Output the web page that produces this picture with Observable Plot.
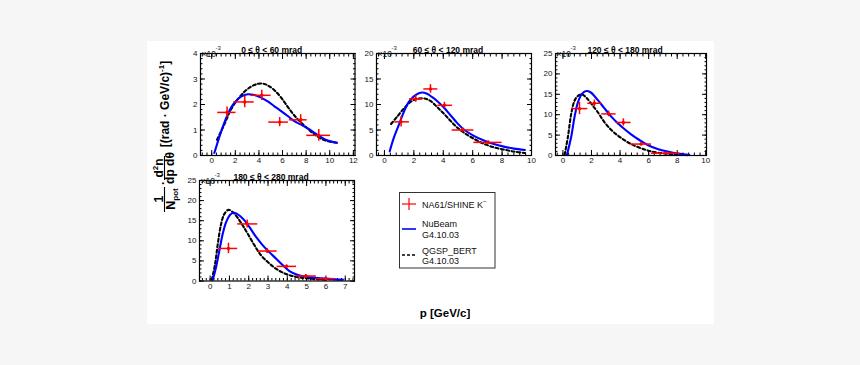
<!DOCTYPE html>
<html><head><meta charset="utf-8">
<script src="https://cdn.jsdelivr.net/npm/d3@7"></script>
<script src="https://cdn.jsdelivr.net/npm/@observablehq/plot@0.6"></script>
<style>
body{margin:0;background:#f6f6f6;}
#page{position:relative;width:860px;height:365px;overflow:hidden;font-family:"Liberation Sans",Arial,Helvetica,sans-serif;}
#sheet{position:absolute;left:147px;top:41px;width:567px;height:283px;background:#fff;}
.panel{position:absolute;}
#overlay{position:absolute;left:0;top:0;}
</style></head><body>
<div id="page"><div id="sheet"></div></div>
<script>
// ---------- data (y values in units of 10^-3) ----------
// Panel 1: 0 <= theta < 60 mrad
const p1Title = "0 ≤ θ < 60 mrad";
const p1P   = [1.3, 2.8, 4.24, 5.76, 7.54, 9.07];
const p1Lo  = [0.51, 1.86, 3.33, 4.83, 6.58, 8.05];
const p1Hi  = [2.06, 3.6, 5.03, 6.5, 8.08, 10.06];
const p1Y   = [1.69, 2.1, 2.36, 1.31, 1.40, 0.79];
const p1Err = [0.21, 0.23, 0.2, 0.18, 0.2, 0.23];
const p1NuP = [0.22, 1.07, 1.64, 2.06, 2.49, 3.05, 3.62, 4.18, 4.75, 5.31, 5.88, 6.44, 7.0, 7.57, 8.14, 8.7, 9.27, 9.83, 10.6];
const p1NuY = [0.1, 1.29, 1.88, 2.14, 2.31, 2.40, 2.37, 2.27, 2.12, 1.93, 1.74, 1.55, 1.35, 1.21, 1.06, 0.89, 0.72, 0.59, 0.50];
const p1QgP = [0.45, 1.07, 1.64, 2.2, 2.77, 3.33, 3.9, 4.32, 4.75, 5.31, 5.88, 6.44, 7.0, 7.57, 8.14, 8.7, 9.27, 9.83, 10.6];
const p1QgY = [0.62, 1.22, 1.81, 2.2, 2.5, 2.7, 2.81, 2.82, 2.75, 2.56, 2.27, 1.91, 1.57, 1.29, 1.05, 0.83, 0.66, 0.56, 0.50];
const p1XTicks = [0, 2, 4, 6, 8, 10, 12];
const p1YTicks = [0, 1, 2, 3, 4];

// Panel 2: 60 <= theta < 120 mrad
const p2Title = "60 ≤ θ < 120 mrad";
const p2P   = [1.13, 2.13, 3.13, 4.08, 5.33, 7.05];
const p2Lo  = [0.7, 1.7, 2.68, 3.63, 4.6, 6.08];
const p2Hi  = [1.7, 2.6, 3.63, 4.63, 6.08, 8.0];
const p2Y   = [6.6, 11.1, 13.05, 9.84, 5.0, 2.57];
const p2Err = [1.0, 0.65, 0.84, 0.6, 0.4, 0.3];
const p2NuP = [0.36, 0.63, 0.98, 1.32, 1.66, 2.0, 2.34, 2.56, 2.9, 3.24, 3.58, 4.04, 4.49, 4.94, 5.4, 6.08, 6.76, 7.44, 8.12, 8.8, 9.55];
const p2NuY = [0.84, 3.4, 6.0, 8.55, 10.5, 11.6, 12.2, 12.35, 12.1, 11.45, 10.7, 9.4, 7.9, 6.4, 5.1, 3.86, 2.96, 2.25, 1.74, 1.35, 1.09];
const p2QgP = [0.45, 0.86, 1.32, 1.77, 2.22, 2.68, 3.13, 3.58, 4.04, 4.49, 4.94, 5.4, 6.08, 6.76, 7.44, 8.12, 8.8, 9.55];
const p2QgY = [6.17, 7.6, 9.2, 10.5, 11.1, 11.2, 10.7, 9.5, 8.2, 6.8, 5.5, 4.5, 3.28, 2.3, 1.6, 1.16, 0.77, 0.5];
const p2XTicks = [0, 2, 4, 6, 8, 10];
const p2YTicks = [0, 5, 10, 15, 20];

// Panel 3: 120 <= theta < 180 mrad
const p3Title = "120 ≤ θ < 180 mrad";
const p3P   = [1.16, 2.2, 3.2, 4.23, 5.47, 7.2];
const p3Lo  = [0.65, 1.74, 2.72, 3.72, 4.77, 6.2];
const p3Hi  = [1.74, 2.72, 3.72, 4.77, 6.2, 8.2];
const p3Y   = [11.5, 12.8, 10.2, 8.1, 2.8, 0.56];
const p3Err = [1.5, 0.8, 0.7, 0.9, 0.4, 0.3];
const p3NuP = [0.28, 0.58, 0.81, 1.05, 1.33, 1.63, 1.93, 2.2, 2.56, 2.9, 3.37, 3.84, 4.3, 4.77, 5.35, 5.93, 6.63, 7.33, 8.02, 8.84];
const p3NuY = [0.16, 4.6, 9.4, 13.0, 15.1, 15.8, 15.5, 14.6, 13.1, 11.6, 9.6, 7.9, 6.5, 5.2, 3.8, 2.56, 1.6, 0.96, 0.48, 0.16];
const p3QgP = [0.12, 0.35, 0.58, 0.81, 1.05, 1.33, 1.63, 1.98, 2.44, 2.9, 3.37, 3.84, 4.3, 4.77, 5.47, 6.16, 7.1, 8.02, 8.72];
const p3QgY = [0.16, 4.6, 10.2, 13.4, 14.6, 15.0, 14.2, 12.7, 10.6, 8.2, 6.3, 4.9, 3.77, 2.8, 1.76, 1.04, 0.48, 0.24, 0.08];
const p3XTicks = [0, 2, 4, 6, 8, 10];
const p3YTicks = [0, 5, 10, 15, 20, 25];

// Panel 4: 180 <= theta < 280 mrad
const p4Title = "180 ≤ θ < 280 mrad";
const p4P   = [0.95, 1.92, 2.96, 3.96, 4.96, 5.98];
const p4Lo  = [0.43, 1.43, 2.47, 3.47, 4.48, 5.5];
const p4Hi  = [1.43, 2.47, 3.47, 4.48, 5.5, 6.48];
const p4Y   = [8.1, 14.2, 7.45, 3.64, 1.24, 0.58];
const p4Err = [1.3, 1.0, 0.6, 0.4, 0.4, 0.3];
const p4NuP = [0.14, 0.31, 0.48, 0.66, 0.83, 1.05, 1.26, 1.52, 1.78, 2.04, 2.39, 2.73, 3.08, 3.42, 3.77, 4.11, 4.55, 5.06, 5.76, 6.45, 6.88];
const p4NuY = [0.33, 3.5, 7.6, 11.9, 14.65, 16.56, 16.97, 16.3, 15.07, 13.4, 10.9, 8.86, 7.12, 5.55, 3.9, 2.48, 1.5, 1.0, 0.66, 0.41, 0.33];
const p4QgP = [0.09, 0.26, 0.4, 0.57, 0.74, 0.95, 1.18, 1.43, 1.69, 1.95, 2.3, 2.64, 2.99, 3.34, 3.77, 4.2, 4.72, 5.4, 6.1];
const p4QgY = [0.33, 4.3, 9.27, 14.2, 16.7, 17.7, 17.1, 15.7, 13.8, 11.75, 8.86, 6.37, 4.72, 3.3, 2.07, 1.32, 0.83, 0.5, 0.33];
const p4XTicks = [0, 1, 2, 3, 4, 5, 6, 7];
const p4YTicks = [0, 5, 10, 15, 20, 25];

const legendLabels = ["NA61/SHINE K", "NuBeam", "G4.10.03", "QGSP_BERT", "G4.10.03"];
const xTitle = "p [GeV/c]";

// ---------- layout ----------
const FONT = '"Liberation Sans", Arial, Helvetica, sans-serif';
const BLUE = "#0000ff", RED = "#ff0000";
const page = document.getElementById("page");

function makePanel(o) {
  const mL = 30, mR = 10, mT = 16, mB = 14;
  const [fx0, fx1, fy0, fy1] = o.frame;
  const w = fx1 - fx0 + mL + mR, h = fy1 - fy0 + mT + mB;
  const pts = o.p.map((p, i) => ({p, lo: o.lo[i], hi: o.hi[i], y: o.y[i], e: o.err[i]}));
  const nu = o.nuP.map((p, i) => ({p, y: o.nuY[i]}));
  const qg = o.qgP.map((p, i) => ({p, y: o.qgY[i]}));
  const xMinor = d3.range(Math.ceil(o.xDom[0] / o.xMinorStep), Math.floor(o.xDom[1] / o.xMinorStep) + 1).map(k => Math.round(k * o.xMinorStep * 1000) / 1000);
  const yMinor = d3.range(o.yDom[0], o.yDom[1] + 1e-9, o.yMinorStep);
  const tickOpts = {fill: "none", label: null, stroke: "#000"};
  const plot = Plot.plot({
    width: w, height: h, marginLeft: mL, marginRight: mR, marginTop: mT, marginBottom: mB,
    style: {background: "transparent", fontFamily: FONT, overflow: "visible"},
    x: {domain: o.xDom}, y: {domain: o.yDom},
    marks: [
      Plot.axisX(xMinor, {...tickOpts, anchor: "bottom", tickSize: -2.5}),
      Plot.axisX(xMinor, {...tickOpts, anchor: "top", tickSize: -2.5}),
      Plot.axisX(o.xTicks, {...tickOpts, anchor: "bottom", tickSize: -5}),
      Plot.axisX(o.xTicks, {...tickOpts, anchor: "top", tickSize: -5}),
      Plot.axisY(yMinor, {...tickOpts, anchor: "left", tickSize: -2.5}),
      Plot.axisY(yMinor, {...tickOpts, anchor: "right", tickSize: -2.5}),
      Plot.axisY(o.yTicks, {...tickOpts, anchor: "left", tickSize: -5}),
      Plot.axisY(o.yTicks, {...tickOpts, anchor: "right", tickSize: -5}),
      Plot.axisX(o.xTicks, {anchor: "bottom", tickSize: 0, tickPadding: 2, label: null, fontSize: 8, fill: "#111"}),
      Plot.axisY(o.yTicks, {anchor: "left", tickSize: 0, tickPadding: 3, label: null, fontSize: 8, fill: "#111"}),
      Plot.line(qg, {x: "p", y: "y", stroke: "#000", strokeWidth: 2.1, strokeDasharray: "3,2.5", curve: "catmull-rom"}),
      Plot.line(nu, {x: "p", y: "y", stroke: BLUE, strokeWidth: 2.1, curve: "catmull-rom"}),
      Plot.ruleY(pts, {x1: "lo", x2: "hi", y: "y", stroke: RED, strokeWidth: 1.5}),
      Plot.ruleX(pts, {x: "p", y1: d => d.y - d.e, y2: d => d.y + d.e, stroke: RED, strokeWidth: 1.5}),
      Plot.dot(pts, {x: "p", y: "y", r: 1.7, fill: RED}),
      Plot.frame({stroke: "#000", strokeWidth: 1.2}),
      Plot.text([o.title], {frameAnchor: "top", dy: -6.5, dx: -6, fontWeight: "bold", fontSize: 8.5, fill: "#000"}),
      Plot.text(["×10"], {frameAnchor: "top-left", textAnchor: "start", dy: -3, dx: 1, fontSize: 8.5, fill: "#222"}),
      Plot.text(["-3"], {frameAnchor: "top-left", textAnchor: "start", dy: -7.5, dx: 15, fontSize: 6, fill: "#222"})
    ]
  });
  plot.classList.add("panel");
  plot.style.left = (fx0 - mL) + "px";
  plot.style.top = (fy0 - mT) + "px";
  page.appendChild(plot);
}

makePanel({title: p1Title, frame: [199.5, 354, 52.5, 154.5], xDom: [-0.95, 12.14], yDom: [0, 4],
  xTicks: p1XTicks, yTicks: p1YTicks, xMinorStep: 0.4, yMinorStep: 0.2,
  p: p1P, lo: p1Lo, hi: p1Hi, y: p1Y, err: p1Err, nuP: p1NuP, nuY: p1NuY, qgP: p1QgP, qgY: p1QgY});
makePanel({title: p2Title, frame: [376, 531, 52.5, 154.5], xDom: [-0.54, 10], yDom: [0, 20],
  xTicks: p2XTicks, yTicks: p2YTicks, xMinorStep: 0.4, yMinorStep: 1,
  p: p2P, lo: p2Lo, hi: p2Hi, y: p2Y, err: p2Err, nuP: p2NuP, nuY: p2NuY, qgP: p2QgP, qgY: p2QgY});
makePanel({title: p3Title, frame: [554.5, 705.5, 52.5, 154.5], xDom: [-0.52, 10.05], yDom: [0, 25],
  xTicks: p3XTicks, yTicks: p3YTicks, xMinorStep: 0.4, yMinorStep: 1,
  p: p3P, lo: p3Lo, hi: p3Hi, y: p3Y, err: p3Err, nuP: p3NuP, nuY: p3NuY, qgP: p3QgP, qgY: p3QgY});
makePanel({title: p4Title, frame: [198.5, 353.5, 180, 280.5], xDom: [-0.55, 7.48], yDom: [0, 25],
  xTicks: p4XTicks, yTicks: p4YTicks, xMinorStep: 0.2, yMinorStep: 1,
  p: p4P, lo: p4Lo, hi: p4Hi, y: p4Y, err: p4Err, nuP: p4NuP, nuY: p4NuY, qgP: p4QgP, qgY: p4QgY});

// ---------- overlay: axis titles + legend ----------
const svg = d3.select(page).append("svg").attr("id", "overlay")
  .attr("width", 860).attr("height", 365).style("font-family", FONT);

// Y title (rotated)
const yt = svg.append("g").attr("font-weight", "bold").attr("fill", "#000");
function rtext(x, y, size) {
  return yt.append("text").attr("transform", `translate(${x},${y}) rotate(-90)`)
    .attr("text-anchor", "middle").attr("font-size", size);
}
rtext(162.5, 199, 12.5).text("1");
yt.append("line").attr("x1", 164.5).attr("x2", 164.5).attr("y1", 187).attr("y2", 212).attr("stroke", "#000").attr("stroke-width", 1.1);
{
  const t = rtext(174.5, 199, 12.5);
  t.append("tspan").text("N");
  t.append("tspan").attr("font-size", 8).attr("dy", 3).text("pot");
}
rtext(167, 183, 12).text("·");
{
  const t = rtext(162.5, 168, 12);
  t.append("tspan").text("d");
  t.append("tspan").attr("font-size", 8).attr("dy", -5).text("2");
  t.append("tspan").attr("dy", 5).text("n");
}
yt.append("line").attr("x1", 164.5).attr("x2", 164.5).attr("y1", 156).attr("y2", 180).attr("stroke", "#000").attr("stroke-width", 1.1);
rtext(174, 168, 12).text("dp dθ");
{
  const t = rtext(169, 104, 12);
  t.append("tspan").text("[(rad · GeV/c)");
  t.append("tspan").attr("font-size", 8).attr("dy", -5).text("-1");
  t.append("tspan").attr("dy", 5).text("]");
}

// X title
svg.append("text").attr("x", 445).attr("y", 317).attr("text-anchor", "middle")
  .attr("font-weight", "bold").attr("font-size", 11.5).text(xTitle);

// Legend
const lg = svg.append("g");
lg.append("rect").attr("x", 399.5).attr("y", 192.5).attr("width", 95.5).attr("height", 75.5)
  .attr("fill", "#fff").attr("stroke", "#333").attr("stroke-width", 1);
lg.append("line").attr("x1", 402).attr("x2", 416).attr("y1", 204).attr("y2", 204).attr("stroke", RED).attr("stroke-width", 1.2);
lg.append("line").attr("x1", 409).attr("x2", 409).attr("y1", 198).attr("y2", 210).attr("stroke", RED).attr("stroke-width", 1.2);
lg.append("line").attr("x1", 402).attr("x2", 416).attr("y1", 229).attr("y2", 229).attr("stroke", BLUE).attr("stroke-width", 1.6);
lg.append("line").attr("x1", 402).attr("x2", 416).attr("y1", 255).attr("y2", 255).attr("stroke", "#000").attr("stroke-width", 1.6).attr("stroke-dasharray", "3,2");
const lt = lg.append("g").attr("font-size", 9).attr("fill", "#111");
{
  const t = lt.append("text").attr("x", 422).attr("y", 207.5);
  t.append("tspan").text(legendLabels[0]);
  t.append("tspan").attr("font-size", 6.5).attr("dy", -4).text("−");
}
lt.append("text").attr("x", 422).attr("y", 227).text(legendLabels[1]);
lt.append("text").attr("x", 422).attr("y", 237.5).text(legendLabels[2]);
lt.append("text").attr("x", 422).attr("y", 253.5).text(legendLabels[3]);
lt.append("text").attr("x", 422).attr("y", 264).text(legendLabels[4]);
</script>
</body></html>
